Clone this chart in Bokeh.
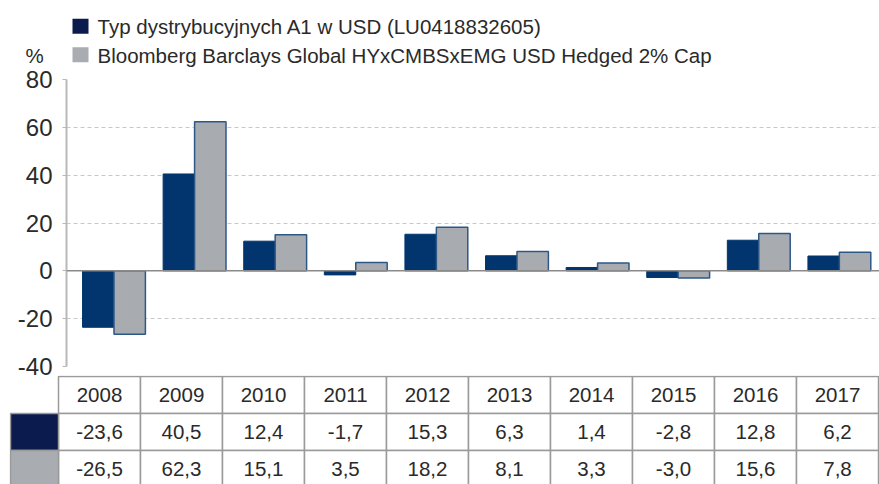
from bokeh.plotting import figure
from bokeh.models import Range1d, FixedTicker, Span
from bokeh.core.properties import value
from bokeh.embed import file_html
from bokeh.resources import INLINE

# ---- data ----
years = ["2008", "2009", "2010", "2011", "2012", "2013", "2014", "2015", "2016", "2017"]
fund = [-23.6, 40.5, 12.4, -1.7, 15.3, 6.3, 1.4, -2.8, 12.8, 6.2]
bench = [-26.5, 62.3, 15.1, 3.5, 18.2, 8.1, 3.3, -3.0, 15.6, 7.8]
series_names = ["Typ dystrybucyjnych A1 w USD (LU0418832605)",
                "Bloomberg Barclays Global HYxCMBSxEMG USD Hedged 2% Cap"]
yticks = [-40, -20, 0, 20, 40, 60, 80]
unit_label = "%"

FONT = "Liberation Sans"
TXT = "#2a2a2a"
DARK_BAR = "#02356d"
GRAY_BAR = "#a8acb0"
GRAY_EDGE = "#2c5888"
DARK_SW = "#0b1b4e"
GRAY_SW = "#a9acb1"
W = 879
OVER = 12  # overlap of table figure onto the chart figure (px)

def fmt(v):
    return f"{v:.1f}".replace(".", ",")

# ---- header (legend + unit) ----
HH = 67
hd = figure(width=W, height=HH, x_range=Range1d(0, W), y_range=Range1d(HH, 0),
            output_backend="svg", toolbar_location=None,
            x_axis_location=None, y_axis_location=None,
            min_border=0, outline_line_color=None)
hd.xgrid.visible = False
hd.ygrid.visible = False
hd.rect(x=[80, 80], y=[25.8, 54.2], width=16, height=15,
        fill_color=[DARK_SW, GRAY_SW], line_color=None)
hd.text(x=[97, 97], y=[26.3, 54.7], text=series_names,
        text_font=value(FONT), text_font_size="20.5px", text_color=TXT,
        text_baseline="middle", text_align="left")
hd.text(x=[25], y=[54.7], text=[unit_label],
        text_font=value(FONT), text_font_size="20.5px", text_color=TXT,
        text_baseline="middle", text_align="left")

# ---- main bar chart ----
n = len(years)
idx = list(range(n))
p = figure(width=W, height=308 + OVER, x_range=Range1d(-0.589, 9.498),
           y_range=Range1d(-40, 80), output_backend="svg", toolbar_location=None,
           x_axis_location=None, min_border_left=66, min_border_right=0,
           min_border_top=12, min_border_bottom=9 + OVER, outline_line_color=None)
p.xgrid.visible = False
p.ygrid.grid_line_dash = "4 3"
p.ygrid.grid_line_color = "#c8c8c8"
p.ygrid.grid_line_width = 1
p.yaxis.ticker = FixedTicker(ticks=yticks)
p.yaxis.major_label_overrides = {t: str(t) for t in yticks}
p.yaxis.major_label_text_font = FONT
p.yaxis.major_label_text_font_size = "24px"
p.yaxis.major_label_text_color = TXT
p.yaxis.major_label_standoff = 10
p.yaxis.major_tick_out = 4
p.yaxis.major_tick_in = 0
p.yaxis.minor_tick_line_color = None
p.yaxis.axis_line_color = "#b8b8b8"
p.yaxis.axis_line_width = 2
p.yaxis.major_tick_line_color = "#b8b8b8"

bw = 0.39
p.vbar(x=[i - bw / 2 for i in idx], top=fund, bottom=0, width=bw,
       fill_color=DARK_BAR, line_color=DARK_BAR, line_width=1)
p.vbar(x=[i + bw / 2 for i in idx], top=bench, bottom=0, width=bw,
       fill_color=GRAY_BAR, line_color=GRAY_EDGE, line_width=1.5)
p.add_layout(Span(location=0, dimension="width", line_color="#8a8a8a", line_width=1.5))

# ---- table ----
rh = 37.0
tb = figure(width=W, height=109, x_range=Range1d(-0.5976, 10.012),
            y_range=Range1d(-108 / rh, 1 / rh), output_backend="svg",
            toolbar_location=None, x_axis_location=None, y_axis_location=None,
            min_border=0, min_border_left=9, outline_line_color=None,
            background_fill_color=None, border_fill_color=None,
            styles={"margin-top": f"-{OVER}px"})
tb.xgrid.visible = False
tb.ygrid.visible = False
BORDER = "#9a9a9a"
cx = [i + 0.5 for i in idx]
for row in range(3):
    tb.rect(x=cx, y=[-(row + 0.5)] * n, width=1, height=1,
            fill_color="white", line_color=BORDER, line_width=1.5)
sw_w = 0.5854
tb.rect(x=[-sw_w / 2, -sw_w / 2], y=[-1.5, -2.5], width=sw_w, height=1,
        fill_color=[DARK_SW, GRAY_SW], line_color=BORDER, line_width=1.5)
tb.text(x=cx, y=[-0.5] * n, text=years, text_font=value(FONT),
        text_font_size="20.5px", text_color=TXT, text_align="center",
        text_baseline="middle")
tb.text(x=cx, y=[-1.5] * n, text=[fmt(v) for v in fund], text_font=value(FONT),
        text_font_size="20.5px", text_color=TXT, text_align="center",
        text_baseline="middle")
tb.text(x=cx, y=[-2.5] * n, text=[fmt(v) for v in bench], text_font=value(FONT),
        text_font_size="20.5px", text_color=TXT, text_align="center",
        text_baseline="middle")

open("out.html", "w").write(file_html([hd, p, tb], INLINE))
